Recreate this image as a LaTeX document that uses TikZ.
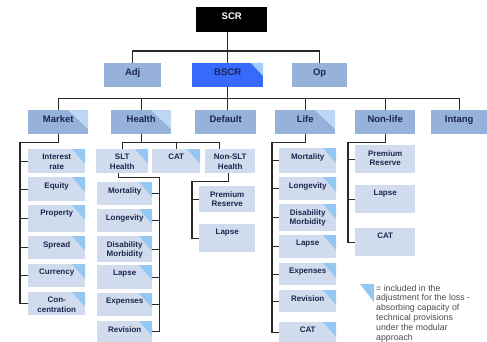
\documentclass[tikz,border=0pt]{standalone}
\usepackage{fontspec}
\setmainfont{Liberation Sans}
\usetikzlibrary{positioning}

\definecolor{navy}{RGB}{28,38,78}
\definecolor{boxmid}{RGB}{150,178,218}
\definecolor{boxmidtri}{RGB}{190,215,244}
\definecolor{boxlight}{RGB}{208,220,238}
\definecolor{boxlighttri}{RGB}{150,198,242}
\definecolor{bscrblue}{RGB}{55,105,250}
\definecolor{bscrtri}{RGB}{165,205,250}
\definecolor{treeline}{RGB}{40,40,40}
\definecolor{legendgray}{RGB}{75,75,75}

\begin{document}
\begin{tikzpicture}[x=1pt,y=-1pt,
  riskbox/.style={anchor=north west,inner sep=0pt,minimum height=24pt},
  midtip/.style={path picture={\fill[boxmidtri]
      ([xshift=-20pt]path picture bounding box.north east) --
      (path picture bounding box.north east) --
      ([yshift=-19pt]path picture bounding box.north east) -- cycle;}},
  lighttip/.style={path picture={\fill[boxlighttri]
      ([xshift=-13pt]path picture bounding box.north east) --
      (path picture bounding box.north east) --
      ([yshift=-15pt]path picture bounding box.north east) -- cycle;}},
  bscrtip/.style={path picture={\fill[bscrtri]
      ([xshift=-12pt]path picture bounding box.north east) --
      (path picture bounding box.north east) --
      ([yshift=-13pt]path picture bounding box.north east) -- cycle;}}]
  \tikzstyle{tree}=[draw=treeline,line width=1.4pt]
  \tikzstyle{midbox}=[riskbox,fill=boxmid,minimum width=60pt]
  \tikzstyle{leafbox}=[riskbox,fill=boxlight,minimum width=57pt]
  \tikzstyle{toptxt}=[font=\bfseries\fontsize{9.5}{11}\selectfont,text=navy,inner sep=1pt]
  \tikzstyle{leaftxt}=[font=\bfseries\fontsize{8}{9.5}\selectfont,text=navy,inner sep=1pt,align=center]
  \tikzstyle{legendtxt}=[font=\fontsize{8.8}{9.8}\selectfont,text=legendgray,inner sep=1pt,align=left]

  \useasboundingbox (0,0) rectangle (487,341);

  % top levels
  \node[riskbox,fill=black,minimum width=71pt,minimum height=25pt] (scr) at (196,7) {};
  \node[toptxt,text=white,below=4.5pt of scr.north] (scr-t) {SCR};
  \node[midbox,minimum width=57pt] (adj) at (104,63) {};
  \node[toptxt,below=4.5pt of adj.north] (adj-t) {Adj};
  \node[riskbox,fill=bscrblue,bscrtip,minimum width=71pt] (bscr) at (192,63) {};
  \node[toptxt,below=4.5pt of bscr.north] (bscr-t) {BSCR};
  \node[midbox,minimum width=55pt] (op) at (292,63) {};
  \node[toptxt,below=4.5pt of op.north] (op-t) {Op};

  \draw[tree] (scr.south -| bscr.north) -- (bscr.north);
  \draw[tree] (adj.north) |- ([yshift=12pt]bscr.north) -| (op.north);

  % modules
  \node[midbox,midtip] (mkt) at (28,110) {};
  \node[toptxt,below=4.5pt of mkt.north] (mkt-t) {Market};
  \node[midbox,midtip] (hlth) at (111,110) {};
  \node[toptxt,below=4.5pt of hlth.north] (hlth-t) {Health};
  \node[midbox,minimum width=61pt] (dflt) at (195,110) {};
  \node[toptxt,below=4.5pt of dflt.north] (dflt-t) {Default};
  \node[midbox,midtip] (life) at (275,110) {};
  \node[toptxt,below=4.5pt of life.north] (life-t) {Life};
  \node[midbox] (nlife) at (355,110) {};
  \node[toptxt,below=4.5pt of nlife.north] (nlife-t) {Non-life};
  \node[midbox,minimum width=56pt] (intg) at (431,110) {};
  \node[toptxt,below=4.5pt of intg.north] (intg-t) {Intang};

  \coordinate (bus) at ([yshift=-11pt]bscr.south);
  \draw[tree] (bscr.south) -- (bus);
  \draw[tree] (mkt.north) |- (bus) -| (intg.north);
  \draw[tree] (hlth.north) -- (hlth.north |- bus);
  \draw[tree] (bus) -- (bus |- dflt.north);
  \draw[tree] (life.north) -- (life.north |- bus);
  \draw[tree] (nlife.north) -- (nlife.north |- bus);

  % market
  \node[leafbox,lighttip] (ir) at (28,149) {};
  \node[leaftxt,below=4pt of ir.north] (ir-t) {Interest\\rate};
  \node[leafbox,lighttip] (eq) at (28,177) {};
  \node[leaftxt,below=4pt of eq.north] (eq-t) {Equity};
  \node[leafbox,lighttip,minimum height=27pt] (prop) at (28,205) {};
  \node[leaftxt,below=4pt of prop.north] (prop-t) {Property};
  \node[leafbox,lighttip,minimum height=23pt] (spr) at (28,236) {};
  \node[leaftxt,below=4pt of spr.north] (spr-t) {Spread};
  \node[leafbox,lighttip,minimum height=23pt] (cur) at (28,264) {};
  \node[leaftxt,below=4pt of cur.north] (cur-t) {Currency};
  \node[leafbox,lighttip,minimum height=23pt] (conc) at (28,292) {};
  \node[leaftxt,below=4pt of conc.north] (conc-t) {Con-\\centration};

  \draw[tree] (mkt.south) -- ++(0,8) -| ([xshift=-8pt]conc.west) -- (conc.west);
  \draw[tree] (ir.west) -- ++(-8,0);
  \draw[tree] (eq.west) -- ++(-8,0);
  \draw[tree] (prop.west) -- ++(-8,0);
  \draw[tree] (spr.west) -- ++(-8,0);
  \draw[tree] (cur.west) -- ++(-8,0);

  % health
  \node[leafbox,lighttip,minimum width=52pt] (slt) at (96,149) {};
  \node[leaftxt,below=4pt of slt.north] (slt-t) {SLT\\Health};
  \node[leafbox,lighttip,minimum width=48pt] (hcat) at (152,149) {};
  \node[leaftxt,below=4pt of hcat.north] (hcat-t) {CAT};
  \node[leafbox,minimum width=50pt] (nslt) at (205,149) {};
  \node[leaftxt,below=4pt of nslt.north] (nslt-t) {Non-SLT\\Health};

  \draw[tree] (hlth.south) -- ++(0,8) coordinate (hbus);
  \draw[tree] (slt.north) |- (hbus) -| ([xshift=-11pt]nslt.north);
  \draw[tree] (hcat.north) -- (hcat.north |- hbus);

  \node[leafbox,lighttip,minimum width=55pt,minimum height=23pt] (smort) at (97,182) {};
  \node[leaftxt,below=4pt of smort.north] (smort-t) {Mortality};
  \node[leafbox,lighttip,minimum width=55pt,minimum height=23pt] (slong) at (97,209) {};
  \node[leaftxt,below=4pt of slong.north] (slong-t) {Longevity};
  \node[leafbox,lighttip,minimum width=55pt,minimum height=26pt] (sdis) at (97,236) {};
  \node[leaftxt,below=4pt of sdis.north] (sdis-t) {Disability\\Morbidity};
  \node[leafbox,lighttip,minimum width=55pt] (slapse) at (97,265) {};
  \node[leaftxt,below=4pt of slapse.north] (slapse-t) {Lapse};
  \node[leafbox,lighttip,minimum width=55pt,minimum height=23pt] (sexp) at (97,293) {};
  \node[leaftxt,below=4pt of sexp.north] (sexp-t) {Expenses};
  \node[leafbox,lighttip,minimum width=55pt,minimum height=21pt] (srev) at (97,321) {};
  \node[leaftxt,below=4pt of srev.north] (srev-t) {Revision};

  \draw[tree] ([xshift=-4pt]slt.south) -- ++(0,4) -| ([xshift=7pt]srev.east) -- (srev.east);
  \draw[tree] (smort.east) -- ++(7,0);
  \draw[tree] (slong.east) -- ++(7,0);
  \draw[tree] (sdis.east) -- ++(7,0);
  \draw[tree] (slapse.east) -- ++(7,0);
  \draw[tree] (sexp.east) -- ++(7,0);

  \node[leafbox,minimum width=56pt,minimum height=26pt] (nprem) at (199,186) {};
  \node[leaftxt,below=4pt of nprem.north] (nprem-t) {Premium\\Reserve};
  \node[leafbox,minimum width=56pt,minimum height=28pt] (nlapse) at (199,224) {};
  \node[leaftxt,below=4pt of nlapse.north] (nlapse-t) {Lapse};

  \draw[tree] ([xshift=-2pt]nslt.south) -- ++(0,8) -| ([xshift=-7pt]nlapse.west) -- (nlapse.west);
  \draw[tree] (nprem.west) -- ++(-7,0);

  % life
  \node[leafbox,lighttip,minimum height=25pt] (lmort) at (279,148) {};
  \node[leaftxt,below=4pt of lmort.north] (lmort-t) {Mortality};
  \node[leafbox,lighttip,minimum height=23pt] (llong) at (279,177) {};
  \node[leaftxt,below=4pt of llong.north] (llong-t) {Longevity};
  \node[leafbox,lighttip,minimum height=27pt] (ldis) at (279,204) {};
  \node[leaftxt,below=4pt of ldis.north] (ldis-t) {Disability\\Morbidity};
  \node[leafbox,lighttip,minimum height=23pt] (llapse) at (279,235) {};
  \node[leaftxt,below=4pt of llapse.north] (llapse-t) {Lapse};
  \node[leafbox,lighttip,minimum height=22pt] (lexp) at (279,263) {};
  \node[leaftxt,below=4pt of lexp.north] (lexp-t) {Expenses};
  \node[leafbox,lighttip,minimum height=22pt] (lrev) at (279,290) {};
  \node[leaftxt,below=4pt of lrev.north] (lrev-t) {Revision};
  \node[leafbox,lighttip,minimum height=20pt] (lcat) at (279,322) {};
  \node[leaftxt,below=4pt of lcat.north] (lcat-t) {CAT};

  \draw[tree] (life.south) -- ++(0,8) -| ([xshift=-7pt]lcat.west) -- (lcat.west);
  \draw[tree] (lmort.west) -- ++(-7,0);
  \draw[tree] (llong.west) -- ++(-7,0);
  \draw[tree] (ldis.west) -- ++(-7,0);
  \draw[tree] (llapse.west) -- ++(-7,0);
  \draw[tree] (lexp.west) -- ++(-7,0);
  \draw[tree] (lrev.west) -- ++(-7,0);

  % non-life
  \node[leafbox,minimum width=60pt,minimum height=28pt] (nlprem) at (355,145) {};
  \node[leaftxt,below=4pt of nlprem.north] (nlprem-t) {Premium\\Reserve};
  \node[leafbox,minimum width=60pt,minimum height=28pt] (nllapse) at (355,185) {};
  \node[leaftxt,below=4pt of nllapse.north] (nllapse-t) {Lapse};
  \node[leafbox,minimum width=60pt,minimum height=28pt] (nlcat) at (355,228) {};
  \node[leaftxt,below=4pt of nlcat.north] (nlcat-t) {CAT};

  \draw[tree] (nlife.south) -- ++(0,8) -| ([xshift=-7pt]nlcat.west) -- (nlcat.west);
  \draw[tree] (nlprem.west) -- ++(-7,0);
  \draw[tree] (nllapse.west) -- ++(-7,0);

  % legend
  \fill[boxlighttri] (360,284) -- (374,284) -- (374,302) -- cycle;
  \node[legendtxt,anchor=north west] (legend) at (375,283.5)
    {= included in the\\adjustment for the loss -\\absorbing capacity of\\technical provisions\\under the modular\\approach};
\end{tikzpicture}
\end{document}
